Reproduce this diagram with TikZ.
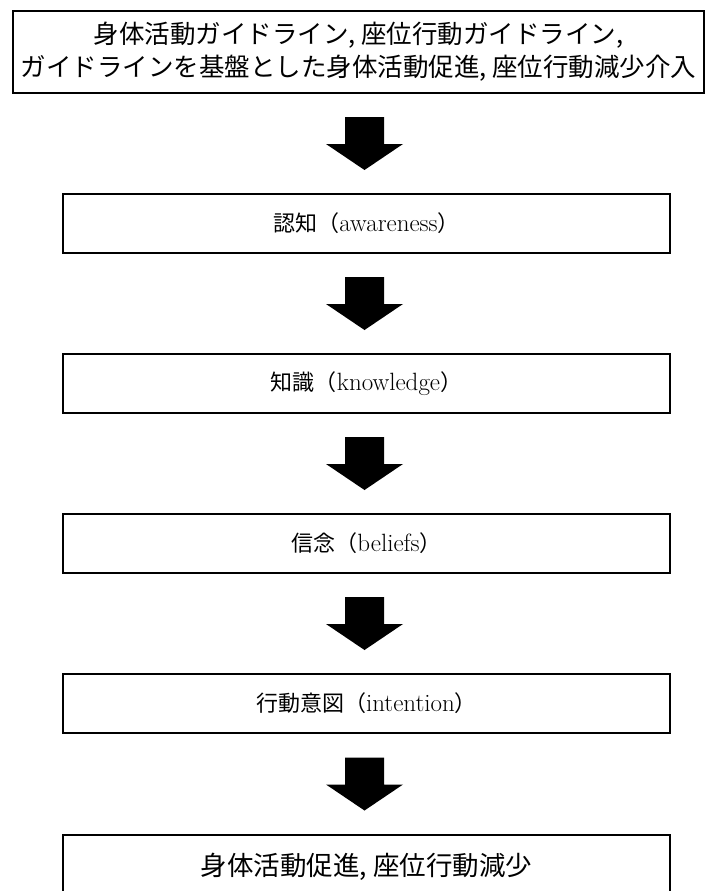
\documentclass[tikz,border=0pt]{standalone}
\usepackage{fontspec}
\newfontfamily\jp{Noto Sans CJK JP}
\usetikzlibrary{calc}
\newcommand\blockarrow[2]{%
  \fill[black] ($(#2.north |- #1.south)!0.5!(#2.north)$) ++(-21.5,26.5) -- ++(39,0) -- ++(0,-27) -- ++(19,0)
    -- ++(-38.5,-26) -- ++(-38.5,26) -- ++(19,0) -- cycle;}
\newcommand\jl[2]{{\jp\fontsize{22}{26}\selectfont #1（}#2{\jp\fontsize{22}{26}\selectfont ）}}
\begin{document}
\begin{tikzpicture}[x=1pt,y=1pt,
  box/.style={draw=black, line width=2.5pt, fill=white, minimum width=607pt,
    minimum height=59pt, inner sep=0pt, font=\fontsize{25}{28}\selectfont},
  topbox/.style={box, minimum width=691pt, minimum height=82pt, align=center,
    font=\jp\fontsize{25.5}{33}\selectfont}]
\useasboundingbox (0,0) rectangle (706,-891);
\fill[white] (0,0) rectangle (706,-891);
\node[topbox] (top) at (358.5,-52)
  {身体活動ガイドライン, 座位行動ガイドライン,\\ガイドラインを基盤とした身体活動促進, 座位行動減少介入};
\node[box] (aw) at (366.5,-223.5) {\jl{認知}{awareness}};
\node[box] (kn) at (366.5,-383.5) {\jl{知識}{knowledge}};
\node[box] (be) at (366.5,-543.5) {\jl{信念}{beliefs}};
\node[box] (in) at (366.5,-703.5) {\jl{行動意図}{intention}};
\node[box, minimum height=64pt, font=\jp\fontsize{26.5}{30}\selectfont] (out) at (366.5,-867)
  {身体活動促進, 座位行動減少};
\blockarrow{top}{aw}
\blockarrow{aw}{kn}
\blockarrow{kn}{be}
\blockarrow{be}{in}
\blockarrow{in}{out}
\end{tikzpicture}
\end{document}
